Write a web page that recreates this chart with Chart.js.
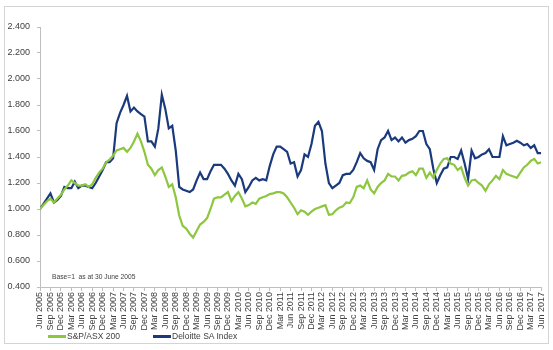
<!DOCTYPE html>
<html>
<head>
<meta charset="utf-8">
<script src="https://cdn.jsdelivr.net/npm/chart.js@4.4.1/dist/chart.umd.min.js"></script>
<style>
  html, body { margin: 0; padding: 0; background: #fff; }
  #wrap { position: relative; width: 553px; height: 350px; }
  #frame { position: absolute; left: 4px; top: 6px; width: 543px; height: 336px; border: 1px solid #d4d4d4; }
  #myChart { position: absolute; left: 0; top: 0; }
  .leg { position: absolute; top: 331px; font: 8.5px "Liberation Sans", Arial, sans-serif; color: #404040; white-space: nowrap; }
  .leg span { display: inline-block; width: 18px; height: 3px; vertical-align: middle; margin-right: 1px; }
</style>
</head>
<body>
<div id="wrap">
  <div id="frame"></div>
  <canvas id="myChart" width="553" height="350"></canvas>
  <div class="leg" style="left:48px"><span style="background:#8dc63f"></span>S&amp;P/ASX 200</div>
  <div class="leg" style="left:153px"><span style="background:#1b3a7e"></span>Deloitte SA Index</div>
</div>
<script>
// quarterly tick labels, one every 3 months
const quarterLabels = [
  'Jun 2005','Sep 2005','Dec 2005','Mar 2006','Jun 2006','Sep 2006','Dec 2006','Mar 2007',
  'Jun 2007','Sep 2007','Dec 2007','Mar 2008','Jun 2008','Sep 2008','Dec 2008','Mar 2009',
  'Jun 2009','Sep 2009','Dec 2009','Mar 2010','Jun 2010','Sep 2010','Dec 2010','Mar 2011',
  'Jun 2011','Sep 2011','Dec 2011','Mar 2012','Jun 2012','Sep 2012','Dec 2012','Mar 2013',
  'Jun 2013','Sep 2013','Dec 2013','Mar 2014','Jun 2014','Sep 2014','Dec 2014','Mar 2015',
  'Jun 2015','Sep 2015','Dec 2015','Mar 2016','Jun 2016','Sep 2016','Dec 2016','Mar 2017',
  'Jun 2017'
];

// monthly values, Jun 2005 .. Jun 2017 (base = 1)
const asx200 = [
  1.00,1.03,1.06,1.08,1.05,1.08,1.11,1.15,1.18,1.22,1.20,1.18,
  1.18,1.19,1.17,1.19,1.24,1.28,1.31,1.36,1.38,1.41,1.45,1.46,
  1.47,1.44,1.47,1.52,1.58,1.52,1.44,1.34,1.31,1.26,1.30,1.32,
  1.25,1.17,1.19,1.09,0.95,0.87,0.85,0.81,0.78,0.83,0.88,0.90,
  0.93,1.00,1.08,1.09,1.09,1.11,1.13,1.06,1.10,1.13,1.08,1.02,
  1.03,1.05,1.04,1.08,1.09,1.10,1.115,1.12,1.13,1.13,1.12,1.09,
  1.05,1.01,0.96,0.99,0.98,0.955,0.98,1.00,1.01,1.02,1.03,0.955,
  0.96,0.99,1.01,1.02,1.05,1.045,1.09,1.17,1.18,1.16,1.22,1.15,
  1.12,1.17,1.20,1.22,1.27,1.25,1.25,1.22,1.255,1.26,1.28,1.29,
  1.26,1.31,1.31,1.24,1.28,1.24,1.30,1.35,1.385,1.39,1.35,1.34,
  1.30,1.32,1.24,1.18,1.22,1.225,1.20,1.18,1.14,1.19,1.22,1.255,
  1.23,1.30,1.27,1.26,1.25,1.24,1.28,1.32,1.34,1.37,1.385,1.35,
  1.36
];
const deloitte = [
  1.00,1.04,1.08,1.12,1.05,1.07,1.10,1.17,1.16,1.16,1.21,1.16,
  1.18,1.18,1.17,1.16,1.20,1.25,1.30,1.36,1.36,1.39,1.66,1.74,
  1.80,1.87,1.75,1.78,1.75,1.73,1.71,1.52,1.52,1.48,1.62,1.88,
  1.77,1.62,1.64,1.45,1.17,1.15,1.14,1.13,1.15,1.22,1.28,1.23,
  1.23,1.29,1.34,1.34,1.34,1.31,1.27,1.22,1.18,1.27,1.23,1.13,
  1.17,1.22,1.24,1.22,1.23,1.22,1.33,1.42,1.48,1.48,1.46,1.44,
  1.35,1.36,1.25,1.30,1.42,1.40,1.50,1.64,1.67,1.60,1.35,1.20,
  1.16,1.18,1.20,1.26,1.27,1.27,1.30,1.36,1.43,1.39,1.37,1.36,
  1.30,1.46,1.53,1.55,1.60,1.53,1.55,1.52,1.55,1.51,1.53,1.54,
  1.56,1.60,1.60,1.50,1.46,1.31,1.20,1.26,1.31,1.32,1.40,1.40,
  1.385,1.45,1.35,1.23,1.45,1.39,1.40,1.42,1.43,1.46,1.40,1.40,
  1.40,1.56,1.49,1.50,1.51,1.525,1.51,1.49,1.50,1.47,1.49,1.43,
  1.43
];

const axisGrey = '#bfbfbf';
const textGrey = '#404040';
const fontName = '"Liberation Sans", Arial, sans-serif';

// small note in the lower left of the plot
const baseNote = {
  id: 'baseNote',
  afterDraw(chart) {
    const ctx = chart.ctx;
    const y = chart.scales.y.getPixelForValue(0.475);
    ctx.save();
    ctx.font = '6.7px ' + fontName;
    ctx.fillStyle = textGrey;
    ctx.textBaseline = 'middle';
    ctx.fillText('Base=1  as at 30 June 2005', chart.chartArea.left + 12, y);
    ctx.restore();
  }
};

function toPoints(arr) {
  return arr.map((v, i) => ({x: i, y: v}));
}

let ctx = document.getElementById('myChart').getContext('2d');
let chart = new Chart(ctx, {
  type: 'line',
  data: {
    datasets: [{
      label: 'S&P/ASX 200',
      data: toPoints(asx200),
      borderColor: '#8dc63f',
      borderWidth: 2.2,
      pointRadius: 0,
    }, {
      label: 'Deloitte SA Index',
      data: toPoints(deloitte),
      borderColor: '#1b3a7e',
      borderWidth: 2.2,
      pointRadius: 0,
    }]
  },
  options: {
    responsive: false,
    animation: false,
    layout: { padding: { top: 27, right: 10, bottom: 18, left: 0 } },
    plugins: {
      legend: { display: false },
      tooltip: { enabled: false },
    },
    scales: {
      x: {
        type: 'linear',
        min: 0,
        max: 144,
        afterFit: (s) => { s.height = 45; },
        border: { color: axisGrey },
        grid: { drawOnChartArea: false, tickLength: 4, color: axisGrey },
        ticks: {
          stepSize: 3,
          autoSkip: false,
          maxRotation: 90,
          minRotation: 90,
          padding: 1,
          color: textGrey,
          font: { family: fontName, size: 9 },
          callback: (v) => quarterLabels[Math.round(v / 3)],
        },
      },
      y: {
        min: 0.4,
        max: 2.4,
        afterFit: (s) => { s.width = 40; },
        border: { color: axisGrey },
        grid: { drawOnChartArea: false, tickLength: 3, color: axisGrey },
        ticks: {
          stepSize: 0.2,
          padding: 7,
          color: textGrey,
          font: { family: fontName, size: 9 },
          callback: (v) => v.toFixed(3),
        },
      },
    },
  },
  plugins: [baseNote],
});
</script>
</body>
</html>
